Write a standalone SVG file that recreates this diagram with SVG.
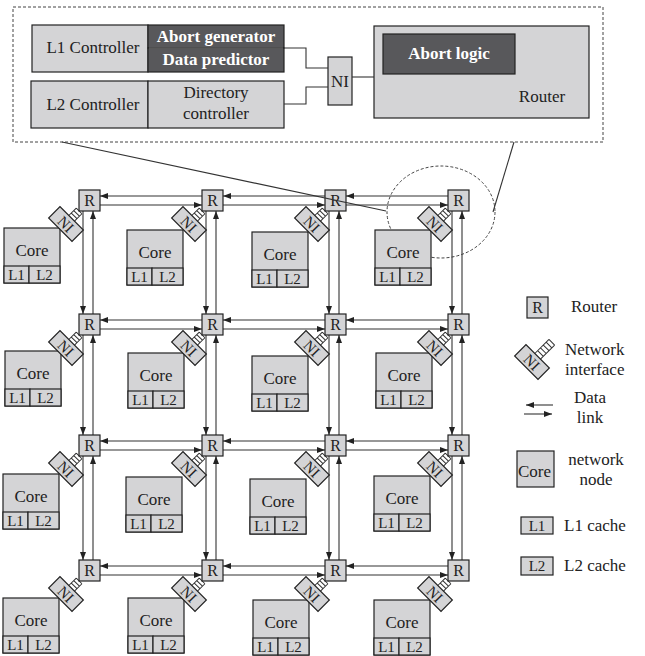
<svg xmlns="http://www.w3.org/2000/svg" xmlns:xlink="http://www.w3.org/1999/xlink" width="645" height="656" viewBox="0 0 645 656">
<style>
text{font-family:"Liberation Serif","DejaVu Serif",serif;fill:#222}
.lt{fill:#d4d4d6;stroke:#222;stroke-width:1.2}
.dk{fill:#58585b;stroke:#222;stroke-width:1.2}
.w{fill:#fff;font-weight:bold}
.f17{font-size:17px}
.f16{font-size:16px}
.f15{font-size:15px}
.mid{text-anchor:middle}
.ln{stroke:#333;stroke-width:1.1;fill:none}
.lk line{stroke:#333;stroke-width:1.1;marker-end:url(#ah)}
.dash{fill:none;stroke:#444;stroke-width:1;stroke-dasharray:3 2}
.lad{stroke:#333;stroke-width:1;fill:none}
</style>
<defs>
<marker id="ah" markerUnits="userSpaceOnUse" markerWidth="8" markerHeight="6" viewBox="0 0 8 6" refX="8" refY="3" orient="auto"><path d="M0,0 L8,3 L0,6 z" fill="#222"/></marker>
<g id="tplR"><rect class="lt" x="0" y="0" width="21" height="21"/><text class="f16 mid" x="10.5" y="16">R</text></g>
<g id="tplNI"><g transform="rotate(45)"><path class="lad" d="M-4,-8 V-18.5 M4,-8 V-18.5 M-4,-11.5 H4 M-4,-15 H4 M-4,-18.5 H4"/><rect class="lt" x="-16.5" y="-8" width="33" height="16"/><text class="f15 mid" x="0" y="5.5">NI</text></g></g>
<g id="tplCore"><rect class="lt" x="0" y="0" width="56" height="55"/><rect class="lt" x="0" y="38" width="25" height="17"/><rect class="lt" x="25" y="38" width="31" height="17"/><text class="f17 mid" x="28" y="28">Core</text><text class="f15 mid" x="12.5" y="52">L1</text><text class="f15 mid" x="40.5" y="52">L2</text></g>
</defs>
<rect width="645" height="656" fill="#fff"/>

<g id="detail">
<rect class="dash" x="13" y="7" width="590" height="135"/>
<g id="l1ctrl">
<rect class="lt" x="32" y="25" width="116" height="47"/>
<rect class="dk" x="148" y="25" width="136" height="23"/>
<rect class="dk" x="148" y="48" width="136" height="24"/>
<line x1="149" y1="48" x2="283" y2="48" stroke="#8a8a8c" stroke-width="0.8"/>
<text class="f17 mid" x="93" y="53">L1 Controller</text>
<text class="f17 mid w" x="216" y="42">Abort generator</text>
<text class="f17 mid w" x="216" y="65">Data predictor</text>
</g>
<g id="l2ctrl">
<rect class="lt" x="31" y="81" width="117" height="47"/>
<rect class="lt" x="148" y="81" width="136" height="47"/>
<text class="f17 mid" x="93" y="110">L2 Controller</text>
<text class="f17 mid" x="216" y="98">Directory</text>
<text class="f17 mid" x="216" y="119">controller</text>
</g>
<g id="detailNI">
<rect class="lt" x="328" y="57" width="24" height="48"/>
<text class="f17 mid" x="340" y="87">NI</text>
</g>
<g id="detailRouter">
<rect class="lt" x="374" y="26" width="215" height="92"/>
<rect class="dk" x="383" y="34" width="132" height="40"/>
<text class="f17 mid w" x="449" y="59">Abort logic</text>
<text class="f17 mid" x="542" y="102">Router</text>
</g>
<g id="detailLinks">
<polyline class="ln" points="284,48 306,48 306,68 328,68"/>
<polyline class="ln" points="284,104 306,104 306,87 328,87"/>
<line class="ln" x1="352" y1="77" x2="374" y2="77"/>
</g>
</g>

<ellipse class="dash" cx="441" cy="212" rx="54" ry="46"/>

<g id="links" class="lk">
<line x1="202" y1="196" x2="100" y2="196"/><line x1="100" y1="205" x2="202" y2="205"/>
<line x1="325" y1="196" x2="223" y2="196"/><line x1="223" y1="205" x2="325" y2="205"/>
<line x1="448" y1="196" x2="346" y2="196"/><line x1="346" y1="205" x2="448" y2="205"/>
<line x1="202" y1="320" x2="100" y2="320"/><line x1="100" y1="329" x2="202" y2="329"/>
<line x1="325" y1="320" x2="223" y2="320"/><line x1="223" y1="329" x2="325" y2="329"/>
<line x1="448" y1="320" x2="346" y2="320"/><line x1="346" y1="329" x2="448" y2="329"/>
<line x1="202" y1="441" x2="100" y2="441"/><line x1="100" y1="450" x2="202" y2="450"/>
<line x1="325" y1="441" x2="223" y2="441"/><line x1="223" y1="450" x2="325" y2="450"/>
<line x1="448" y1="441" x2="346" y2="441"/><line x1="346" y1="450" x2="448" y2="450"/>
<line x1="202" y1="566" x2="100" y2="566"/><line x1="100" y1="575" x2="202" y2="575"/>
<line x1="325" y1="566" x2="223" y2="566"/><line x1="223" y1="575" x2="325" y2="575"/>
<line x1="448" y1="566" x2="346" y2="566"/><line x1="346" y1="575" x2="448" y2="575"/>

<line x1="83" y1="211" x2="83" y2="314"/><line x1="93" y1="314" x2="93" y2="211"/>
<line x1="83" y1="335" x2="83" y2="435"/><line x1="93" y1="435" x2="93" y2="335"/>
<line x1="83" y1="456" x2="83" y2="560"/><line x1="93" y1="560" x2="93" y2="456"/>
<line x1="206" y1="211" x2="206" y2="314"/><line x1="216" y1="314" x2="216" y2="211"/>
<line x1="206" y1="335" x2="206" y2="435"/><line x1="216" y1="435" x2="216" y2="335"/>
<line x1="206" y1="456" x2="206" y2="560"/><line x1="216" y1="560" x2="216" y2="456"/>
<line x1="329" y1="211" x2="329" y2="314"/><line x1="339" y1="314" x2="339" y2="211"/>
<line x1="329" y1="335" x2="329" y2="435"/><line x1="339" y1="435" x2="339" y2="335"/>
<line x1="329" y1="456" x2="329" y2="560"/><line x1="339" y1="560" x2="339" y2="456"/>
<line x1="452" y1="211" x2="452" y2="314"/><line x1="462" y1="314" x2="462" y2="211"/>
<line x1="452" y1="335" x2="452" y2="435"/><line x1="462" y1="435" x2="462" y2="335"/>
<line x1="452" y1="456" x2="452" y2="560"/><line x1="462" y1="560" x2="462" y2="456"/>
</g>

<g id="n11"><use href="#tplCore" x="4" y="228"/><use href="#tplNI" transform="translate(66,224)"/><use href="#tplR" x="79" y="190"/></g>
<g id="n12"><use href="#tplCore" x="127" y="230"/><use href="#tplNI" transform="translate(189,224)"/><use href="#tplR" x="202" y="190"/></g>
<g id="n13"><use href="#tplCore" x="252" y="232"/><use href="#tplNI" transform="translate(312,224)"/><use href="#tplR" x="325" y="190"/></g>
<g id="n14"><use href="#tplCore" x="375" y="230"/><use href="#tplNI" transform="translate(435,224)"/><use href="#tplR" x="448" y="190"/></g>

<g id="n21"><use href="#tplCore" x="5" y="351"/><use href="#tplNI" transform="translate(66,348)"/><use href="#tplR" x="79" y="314"/></g>
<g id="n22"><use href="#tplCore" x="128" y="353"/><use href="#tplNI" transform="translate(189,348)"/><use href="#tplR" x="202" y="314"/></g>
<g id="n23"><use href="#tplCore" x="252" y="356"/><use href="#tplNI" transform="translate(312,348)"/><use href="#tplR" x="325" y="314"/></g>
<g id="n24"><use href="#tplCore" x="376" y="353"/><use href="#tplNI" transform="translate(435,348)"/><use href="#tplR" x="448" y="314"/></g>

<g id="n31"><use href="#tplCore" x="3" y="474"/><use href="#tplNI" transform="translate(66,469)"/><use href="#tplR" x="79" y="435"/></g>
<g id="n32"><use href="#tplCore" x="126" y="477"/><use href="#tplNI" transform="translate(189,469)"/><use href="#tplR" x="202" y="435"/></g>
<g id="n33"><use href="#tplCore" x="250" y="479"/><use href="#tplNI" transform="translate(312,469)"/><use href="#tplR" x="325" y="435"/></g>
<g id="n34"><use href="#tplCore" x="374" y="476"/><use href="#tplNI" transform="translate(435,469)"/><use href="#tplR" x="448" y="435"/></g>

<g id="n41"><use href="#tplCore" x="3" y="598"/><use href="#tplNI" transform="translate(66,594)"/><use href="#tplR" x="79" y="560"/></g>
<g id="n42"><use href="#tplCore" x="128" y="598"/><use href="#tplNI" transform="translate(189,594)"/><use href="#tplR" x="202" y="560"/></g>
<g id="n43"><use href="#tplCore" x="253" y="600"/><use href="#tplNI" transform="translate(312,594)"/><use href="#tplR" x="325" y="560"/></g>
<g id="n44"><use href="#tplCore" x="374" y="600"/><use href="#tplNI" transform="translate(435,594)"/><use href="#tplR" x="448" y="560"/></g>

<g id="zoomLines">
<line class="ln" x1="62" y1="142" x2="386" y2="211"/>
<line class="ln" x1="514" y1="142" x2="493" y2="212"/>
</g>

<g id="legend">
<g id="lgR"><use href="#tplR" x="527" y="297"/><text class="f17" x="571" y="312">Router</text></g>
<g id="lgNI"><g transform="translate(532,362) rotate(45)"><path class="lad" d="M-4,-8 V-28 M4,-8 V-28 M-4,-12 H4 M-4,-16 H4 M-4,-20 H4 M-4,-24 H4 M-4,-28 H4"/><rect class="lt" x="-16.5" y="-8" width="33" height="16"/><text class="f15 mid" x="0" y="5.5">NI</text></g>
<text class="f17" x="565" y="355">Network</text><text class="f17" x="565" y="375">interface</text></g>
<g id="lgLink" class="lk"><line x1="553" y1="405" x2="526" y2="405"/><line x1="524" y1="414" x2="552" y2="414"/></g>
<text class="f17 mid" x="590" y="403">Data</text><text class="f17 mid" x="590" y="423">link</text>
<g id="lgCore"><rect class="lt" x="517" y="451" width="37" height="36"/><text class="f17" x="518" y="477">Core</text>
<text class="f17 mid" x="596" y="465">network</text><text class="f17 mid" x="596" y="485">node</text></g>
<g id="lgL1"><rect class="lt" x="521" y="517" width="32" height="17"/><text class="f15 mid" x="537" y="531">L1</text><text class="f17" x="564" y="531">L1 cache</text></g>
<g id="lgL2"><rect class="lt" x="521" y="557" width="32" height="18"/><text class="f15 mid" x="537" y="571">L2</text><text class="f17" x="564" y="571">L2 cache</text></g>
</g>
</svg>
